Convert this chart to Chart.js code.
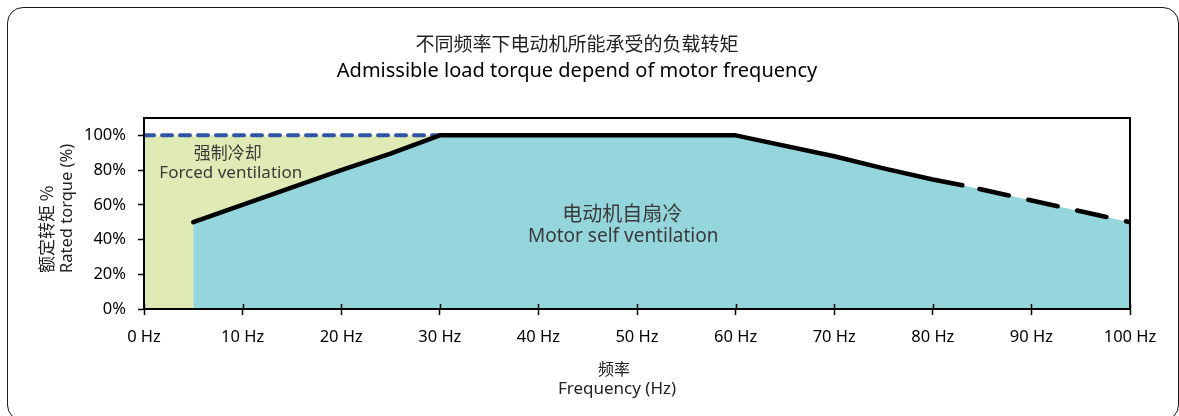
<!DOCTYPE html>
<html>
<head>
<meta charset="utf-8">
<script src="https://cdn.jsdelivr.net/npm/chart.js@4/dist/chart.umd.min.js"></script>
<style>
  html, body { margin:0; padding:0; background:#fff; }
  #wrap { position:relative; width:1179px; height:416px; overflow:hidden; }
  #frame { position:absolute; left:7px; top:7px; width:1172px; height:414px; border:1.5px solid #1a1a1a;
           border-radius:16px; box-sizing:border-box; pointer-events:none; }
  canvas { position:absolute; left:0; top:0; }
</style>
</head>
<body>
<div id="wrap">
  <canvas id="chart" width="1179" height="416"></canvas>
  <div id="frame"></div>
</div>
<script>
// ===== data =====
const titleZh = '不同频率下电动机所能承受的负载转矩';
const titleEn = 'Admissible load torque depend of motor frequency';
const xTitle = ['频率', 'Frequency (Hz)'];
const yTitle = ['额定转矩 %', 'Rated torque (%)'];

// motor self ventilation limit (Hz, % rated torque)
const selfHz     = [5,  20, 25,   30,  60,  70, 75, 80,   83,   100];
const selfTorque = [50, 80, 89.5, 100, 100, 88, 81, 74.6, 71.3, 50];
const dashFromHz = 83;   // beyond this the limit is drawn dashed

// forced ventilation (0..30 Hz at 100 %)
const forcedHz     = [0, 30];
const forcedTorque = [100, 100];

const xTicks = [0,10,20,30,40,50,60,70,80,90,100];
const yTicks = [0,20,40,60,80,100];

// in-plot labels: [text, Hz, %, lang, px]
const notes = [
  ['强制冷却', 8.5, 90, 'zh', 17],
  ['Forced ventilation', 8.8, 78, 'en', 17],
  ['电动机自扇冷', 48.5, 55, 'zh', 20],
  ['Motor self ventilation', 48.6, 41.7, 'en', 19]
];

const colors = { forced:'#e0eab4', self:'#95d5dc', blue:'#2f55a5', line:'#000', text:'#222', note:'#3a3a3a' };
const fontEn = '"Noto Sans", "Noto Sans CJK SC", sans-serif';
const fontZh = '"Noto Sans CJK SC", "Noto Sans", sans-serif';

const toXY = (xs, ys) => xs.map((x, i) => ({ x, y: ys[i] }));

// frame, upper halves of x ticks, axis titles and in-plot labels
const decor = {
  id: 'decor',
  afterDatasetsDraw(chart) {
    const { ctx, chartArea: a, scales: { x, y } } = chart;
    ctx.save();
    ctx.strokeStyle = '#000';
    ctx.lineWidth = 2;
    ctx.strokeRect(a.left, a.top, a.right - a.left, a.bottom - a.top);
    ctx.lineWidth = 1.5;
    xTicks.forEach(v => {
      const px = Math.round(x.getPixelForValue(v)) + 0.5;
      ctx.beginPath(); ctx.moveTo(px, a.bottom); ctx.lineTo(px, a.bottom - 5); ctx.stroke();
    });
    ctx.textBaseline = 'middle';
    ctx.fillStyle = colors.note;
    ctx.textAlign = 'center';
    notes.forEach(([t, hz, pct, lang, size]) => {
      ctx.font = size + 'px ' + (lang === 'zh' ? fontZh : fontEn);
      ctx.fillText(t, x.getPixelForValue(hz), y.getPixelForValue(pct));
    });
    // x axis title
    ctx.fillStyle = colors.text;
    ctx.font = '16px ' + fontZh;
    ctx.fillText(xTitle[0], 614, 369);
    ctx.font = '17px ' + fontEn;
    ctx.fillText(xTitle[1], 617, 389);
    // y axis title (rotated, both lines start at the same height)
    ctx.save();
    ctx.translate(0, 273);
    ctx.rotate(-Math.PI / 2);
    ctx.textAlign = 'left';
    ctx.font = '17px ' + fontZh;
    ctx.fillText(yTitle[0], 0, 47);
    ctx.font = '16.5px ' + fontEn;
    ctx.fillText(yTitle[1], 0, 67);
    ctx.restore();
    ctx.restore();
  }
};

new Chart(document.getElementById('chart'), {
  type: 'line',
  data: {
    datasets: [
      { // the limit curve
        label: 'Limit',
        data: toXY(selfHz, selfTorque),
        borderColor: colors.line, borderWidth: 4.5, borderCapStyle: 'round', borderJoinStyle: 'round',
        fill: false, pointRadius: 0, tension: 0,
        segment: {
          borderDash: c => c.p0.parsed.x >= dashFromHz ? [30, 20] : undefined,
          borderDashOffset: c => c.p0.parsed.x >= dashFromHz ? 32.5 : 0
        }
      },
      { // area under it
        label: 'Motor self ventilation',
        data: toXY(selfHz, selfTorque),
        borderWidth: 0, backgroundColor: colors.self, fill: 'origin', pointRadius: 0, tension: 0
      },
      {
        label: 'Forced ventilation',
        data: toXY(forcedHz, forcedTorque),
        borderColor: colors.blue, borderWidth: 4, borderDash: [10, 8], borderCapStyle: 'round',
        backgroundColor: colors.forced, fill: 'origin', pointRadius: 0
      }
    ]
  },
  options: {
    responsive: false, animation: false, devicePixelRatio: 1,
    layout: { padding: { left: 24, right: 49, top: 0, bottom: 0 } },
    plugins: {
      legend: { display: false }, tooltip: { enabled: false },
      title: { display: true, text: titleZh, color: colors.text,
        font: { family: fontZh, size: 19, weight: 'normal', lineHeight: 1.2 }, padding: { top: 32.6, bottom: 4 } },
      subtitle: { display: true, text: titleEn, color: '#000',
        font: { family: fontEn, size: 20, weight: 'normal', lineHeight: 1.2 }, padding: { top: 0, bottom: 34.6 } }
    },
    scales: {
      x: {
        type: 'linear', min: 0, max: 100,
        afterBuildTicks: s => { s.ticks = xTicks.map(v => ({ value: v })); },
        afterFit: s => { s.height = 107; },
        ticks: { color: '#000', padding: 12, maxRotation: 0, font: { family: fontEn, size: 16.5 },
          callback: v => v + ' Hz' },
        grid: { drawOnChartArea: false, tickLength: 6, tickWidth: 1.5, tickColor: '#000' },
        border: { color: '#000', width: 2 }
      },
      y: {
        min: 0, max: 110,
        afterBuildTicks: s => { s.ticks = yTicks.map(v => ({ value: v })); },
        afterFit: s => { s.width = 120; },
        ticks: { color: '#000', padding: 12, font: { family: fontEn, size: 16.5 }, callback: v => v + '%' },
        grid: { drawOnChartArea: false, tickLength: 6, tickWidth: 1.5, tickColor: '#000' },
        border: { color: '#000', width: 2 }
      }
    }
  },
  plugins: [decor]
});
</script>
</body>
</html>
